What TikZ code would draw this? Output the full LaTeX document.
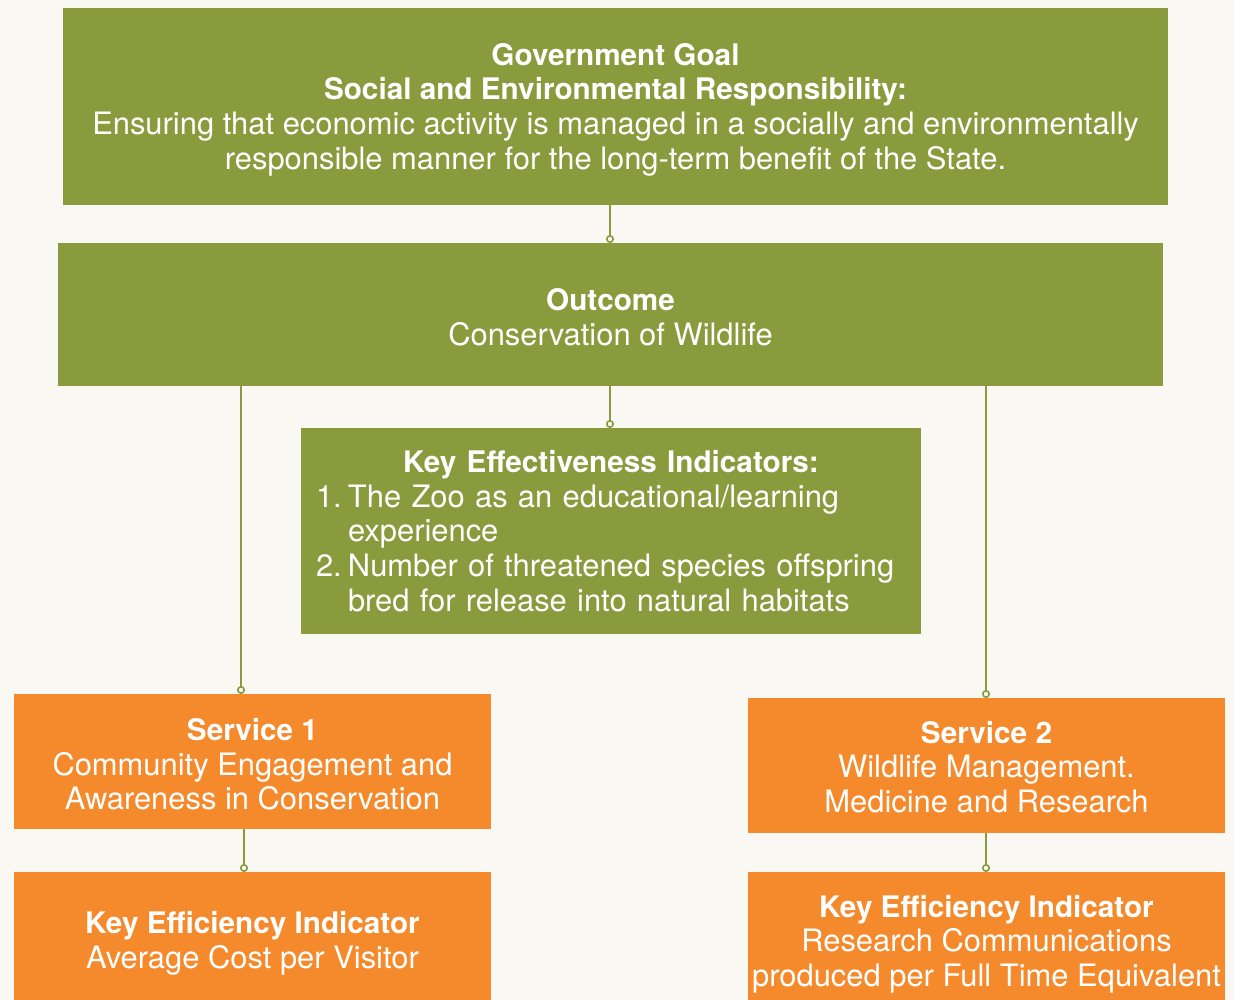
\documentclass[tikz,border=0pt]{standalone}
\usepackage{fontspec}
\setmainfont{TeX Gyre Heros}
\usetikzlibrary{arrows.meta}
\definecolor{bg}{HTML}{FAF8F3}
\definecolor{leaf}{HTML}{8A9B3E}
\definecolor{tang}{HTML}{F58A2D}
\newcommand\fsz{\fontsize{30.9}{34.7}\selectfont}
\newcommand\hd[1]{{\fontsize{29.7}{34.7}\selectfont\bfseries #1}}
\begin{document}
\begin{tikzpicture}[x=1pt,y=-1pt,
  box/.style={anchor=north west, inner sep=0pt, outer sep=0pt},
  gbox/.style={box, fill=leaf},
  obox/.style={box, fill=tang},
  txt/.style={text=white, align=center, font=\fsz, inner sep=0pt, yshift=-3pt},
  conn/.style={draw=leaf, line width=1.6pt, -{Circle[open, fill=bg, length=8pt, width=8pt]}}]
\fill[bg] (0,0) rectangle (1234,1000);
\useasboundingbox (0,0) rectangle (1234,1000);

\node[gbox, minimum width=1105pt, minimum height=197pt] (goal) at (63,8) {};
\node[txt] (goaltext) at (goal.center)
  {\hd{Government Goal}\\\hd{Social and Environmental Responsibility:}\\Ensuring that economic activity is managed in a socially and environmentally\\responsible manner for the long-term benefit of the State.};

\node[gbox, minimum width=1105pt, minimum height=143pt] (outcome) at (58,243) {};
\node[txt] (outcometext) at (outcome.center) {\hd{Outcome}\\Conservation of Wildlife};

\node[gbox, minimum width=620pt, minimum height=206pt] (kei) at (301,428) {};
\node[txt, text width=590pt, align=left, yshift=3pt] (keitext) at (kei.center)
  {{\centering\hd{Key Effectiveness Indicators:}\par}
   \makebox[32pt][l]{1.}The Zoo as an educational/learning\par
   \hspace*{32pt}experience\par
   \makebox[32pt][l]{2.}Number of threatened species offspring\par
   \hspace*{32pt}bred for release into natural habitats\par};

\node[obox, minimum width=477pt, minimum height=135pt] (s1) at (14,694) {};
\node[txt] (s1text) at (s1.center) {\hd{Service 1}\\Community Engagement and\\Awareness in Conservation};
\node[obox, minimum width=477pt, minimum height=135pt] (s2) at (748,698) {};
\node[txt, yshift=1.5pt] (s2text) at (s2.center) {\hd{Service 2}\\Wildlife Management.\\Medicine and Research};

\node[obox, minimum width=477pt, minimum height=136pt] (k1) at (14,872) {};
\node[txt] (k1text) at (k1.center) {\hd{Key Efficiency Indicator}\\Average Cost per Visitor};
\node[obox, minimum width=477pt, minimum height=138pt] (k2) at (748,872) {};
\node[txt] (k2text) at (k2.center) {\hd{Key Efficiency Indicator}\\Research Communications\\produced per Full Time Equivalent};

\coordinate (xa) at (610,0);
\coordinate (xb) at (241,0);
\coordinate (xc) at (986,0);
\coordinate (xd) at (244,0);

\draw[conn] (goal.south -| xa) -- (outcome.north -| xa);
\draw[conn] (outcome.south -| xa) -- (kei.north -| xa);
\draw[conn] (outcome.south -| xb) -- (s1.north -| xb);
\draw[conn] (outcome.south -| xc) -- (s2.north -| xc);
\draw[conn] (s1.south -| xd) -- (k1.north -| xd);
\draw[conn] (s2.south -| xc) -- (k2.north -| xc);
\end{tikzpicture}
\end{document}
